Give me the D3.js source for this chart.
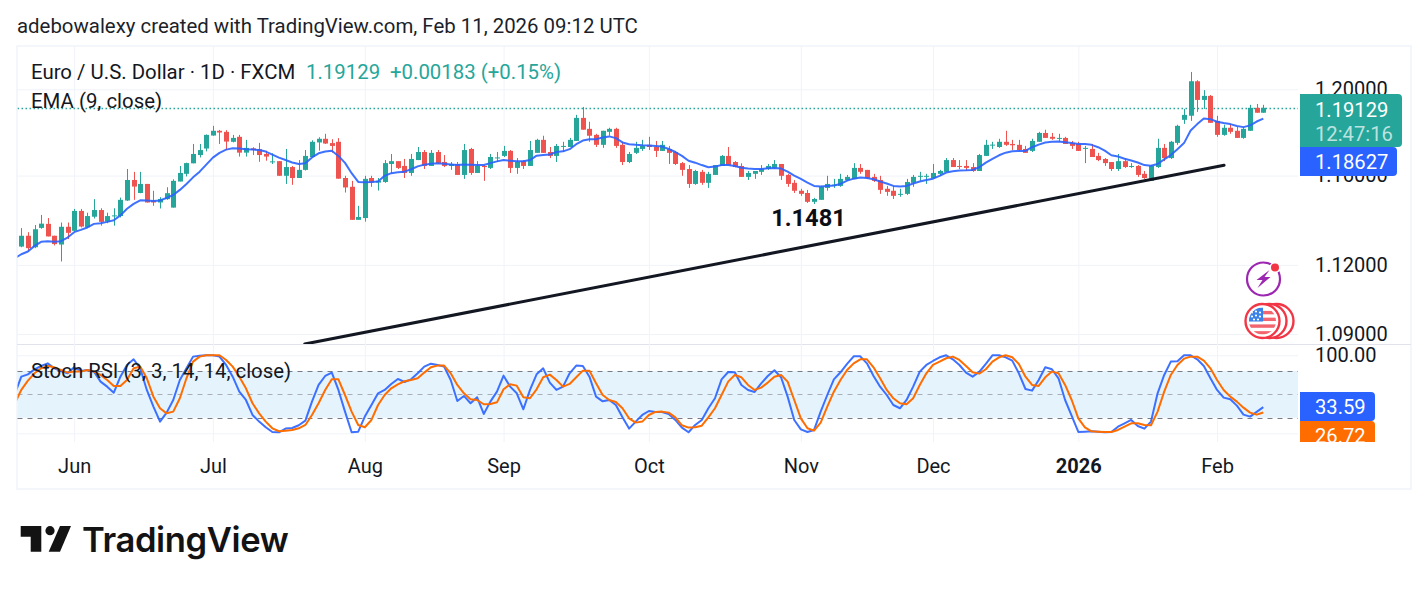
<!DOCTYPE html>
<html>
<head>
<meta charset="utf-8">
<title>EUR/USD daily</title>
<script src="https://cdn.jsdelivr.net/npm/d3@7/dist/d3.min.js"></script>
<style>
  html, body { margin: 0; padding: 0; background: #fff; }
  svg { display: block; font-family: Roboto, sans-serif; }
  .pane-axis path { display: none; }
</style>
</head>
<body>
<svg id="chart" width="1428" height="591"></svg>
<script>
// Daily candles, oldest first
const opens = [
1.1281,1.1329,1.1278,1.1364,1.1382,1.1329,1.1290,1.1369,1.1351,1.1440,
1.1367,1.1414,1.1444,1.1392,1.1417,1.1417,1.1487,1.1580,1.1521,1.1562,
1.1487,1.1478,1.1493,1.1455,1.1573,1.1608,1.1656,1.1694,1.1724,1.1784,
1.1806,1.1801,1.1755,1.1778,1.1705,1.1725,1.1721,1.1699,1.1662,1.1666,
1.1599,1.1639,1.1589,1.1626,1.1685,1.1752,1.1769,1.1749,1.1755,1.1589,
1.1549,1.1400,1.1408,1.1589,1.1568,1.1571,1.1653,1.1666,1.1644,1.1612,
1.1671,1.1708,1.1644,1.1708,1.1662,1.1644,1.1653,1.1603,1.1722,1.1612,
1.1644,1.1635,1.1680,1.1690,1.1713,1.1635,1.1666,1.1644,1.1704,1.1764,
1.1708,1.1690,1.1733,1.1731,1.1759,1.1866,1.1815,1.1787,1.1741,1.1801,
1.1815,1.1741,1.1662,1.1704,1.1722,1.1741,1.1731,1.1713,1.1722,1.1708,
1.1657,1.1630,1.1562,1.1617,1.1567,1.1603,1.1644,1.1690,1.1662,1.1644,
1.1594,1.1608,1.1617,1.1630,1.1635,1.1653,1.1603,1.1567,1.1531,1.1521,
1.1481,1.1490,1.1544,1.1556,1.1553,1.1580,1.1585,1.1635,1.1626,1.1594,
1.1580,1.1540,1.1531,1.1514,1.1517,1.1567,1.1596,1.1596,1.1589,1.1608,
1.1617,1.1671,1.1644,1.1644,1.1639,1.1621,1.1690,1.1739,1.1731,1.1755,
1.1745,1.1741,1.1722,1.1713,1.1755,1.1796,1.1778,1.1770,1.1773,1.1750,
1.1745,1.1724,1.1722,1.1690,1.1676,1.1662,1.1630,1.1666,1.1641,1.1644,
1.1608,1.1576,1.1639,1.1727,1.1680,1.1750,1.1857,1.1876,1.2038,1.1950,
1.1969,1.1852,1.1787,1.1820,1.1806,1.1773,1.1806,1.1913,1.1890];
const closes = [
1.1329,1.1274,1.1358,1.1383,1.1326,1.1292,1.1369,1.1342,1.1440,1.1370,
1.1417,1.1444,1.1391,1.1417,1.1420,1.1490,1.1580,1.1550,1.1562,1.1478,
1.1478,1.1494,1.1520,1.1576,1.1612,1.1657,1.1699,1.1717,1.1787,1.1806,
1.1798,1.1756,1.1773,1.1705,1.1727,1.1717,1.1694,1.1687,1.1665,1.1599,
1.1639,1.1589,1.1626,1.1690,1.1755,1.1769,1.1747,1.1736,1.1586,1.1546,
1.1400,1.1413,1.1585,1.1568,1.1577,1.1657,1.1666,1.1635,1.1612,1.1676,
1.1708,1.1644,1.1704,1.1657,1.1644,1.1653,1.1603,1.1717,1.1612,1.1644,
1.1639,1.1685,1.1683,1.1713,1.1635,1.1662,1.1644,1.1717,1.1764,1.1704,
1.1690,1.1736,1.1736,1.1764,1.1866,1.1811,1.1783,1.1741,1.1806,1.1815,
1.1736,1.1662,1.1699,1.1727,1.1736,1.1731,1.1713,1.1741,1.1704,1.1653,
1.1626,1.1562,1.1621,1.1567,1.1608,1.1648,1.1690,1.1648,1.1639,1.1594,
1.1612,1.1621,1.1630,1.1644,1.1653,1.1599,1.1562,1.1531,1.1517,1.1481,
1.1494,1.1549,1.1562,1.1559,1.1585,1.1594,1.1635,1.1617,1.1589,1.1576,
1.1535,1.1526,1.1508,1.1517,1.1571,1.1594,1.1599,1.1599,1.1612,1.1621,
1.1671,1.1639,1.1641,1.1635,1.1621,1.1694,1.1741,1.1742,1.1755,1.1741,
1.1739,1.1717,1.1704,1.1759,1.1796,1.1773,1.1769,1.1773,1.1745,1.1736,
1.1713,1.1727,1.1685,1.1671,1.1657,1.1630,1.1666,1.1639,1.1644,1.1603,
1.1589,1.1644,1.1727,1.1680,1.1755,1.1829,1.1880,1.2038,1.1950,1.1969,
1.1843,1.1787,1.1820,1.1801,1.1773,1.1815,1.1913,1.1890,1.19129];
const highs = [
1.1363,1.1345,1.1377,1.1422,1.1408,1.1329,1.1388,1.1388,1.1449,1.1449,
1.1432,1.1493,1.1452,1.1432,1.1452,1.1500,1.1630,1.1617,1.1617,1.1562,
1.1531,1.1502,1.1547,1.1583,1.1644,1.1659,1.1745,1.1745,1.1789,1.1829,
1.1810,1.1809,1.1787,1.1787,1.1764,1.1730,1.1750,1.1714,1.1702,1.1666,
1.1722,1.1644,1.1671,1.1717,1.1762,1.1776,1.1792,1.1767,1.1772,1.1599,
1.1576,1.1463,1.1599,1.1599,1.1589,1.1671,1.1699,1.1666,1.1676,1.1699,
1.1731,1.1717,1.1717,1.1717,1.1694,1.1662,1.1662,1.1745,1.1727,1.1666,
1.1648,1.1699,1.1708,1.1736,1.1717,1.1680,1.1671,1.1759,1.1769,1.1783,
1.1731,1.1745,1.1755,1.1773,1.1880,1.1917,1.1848,1.1792,1.1806,1.1820,
1.1820,1.1755,1.1708,1.1755,1.1764,1.1778,1.1759,1.1759,1.1736,1.1713,
1.1662,1.1648,1.1626,1.1626,1.1617,1.1648,1.1694,1.1731,1.1666,1.1656,
1.1621,1.1621,1.1648,1.1653,1.1671,1.1653,1.1608,1.1580,1.1540,1.1535,
1.1499,1.1553,1.1599,1.1585,1.1608,1.1603,1.1657,1.1653,1.1626,1.1608,
1.1599,1.1553,1.1553,1.1540,1.1585,1.1603,1.1617,1.1608,1.1653,1.1626,
1.1680,1.1680,1.1671,1.1671,1.1657,1.1699,1.1764,1.1755,1.1769,1.1806,
1.1764,1.1764,1.1736,1.1769,1.1801,1.1811,1.1796,1.1792,1.1778,1.1759,
1.1755,1.1736,1.1745,1.1704,1.1680,1.1662,1.1699,1.1680,1.1657,1.1648,
1.1621,1.1648,1.1769,1.1745,1.1759,1.1834,1.1908,1.2082,1.2043,1.1996,
1.1973,1.1876,1.1834,1.1838,1.1824,1.1824,1.1927,1.1931,1.1927];
const lows = [
1.1278,1.1259,1.1274,1.1360,1.1326,1.1286,1.1215,1.1314,1.1348,1.1366,
1.1363,1.1406,1.1374,1.1385,1.1374,1.1411,1.1485,1.1490,1.1520,1.1478,
1.1463,1.1451,1.1490,1.1455,1.1573,1.1596,1.1656,1.1683,1.1711,1.1783,
1.1745,1.1717,1.1752,1.1687,1.1687,1.1694,1.1663,1.1668,1.1653,1.1599,
1.1562,1.1558,1.1589,1.1623,1.1683,1.1714,1.1745,1.1705,1.1586,1.1523,
1.1400,1.1400,1.1392,1.1549,1.1532,1.1567,1.1611,1.1630,1.1589,1.1599,
1.1671,1.1630,1.1644,1.1653,1.1639,1.1626,1.1603,1.1585,1.1603,1.1612,
1.1576,1.1630,1.1662,1.1685,1.1612,1.1608,1.1630,1.1644,1.1704,1.1704,
1.1680,1.1662,1.1708,1.1731,1.1759,1.1811,1.1755,1.1731,1.1727,1.1783,
1.1727,1.1648,1.1657,1.1699,1.1713,1.1717,1.1685,1.1713,1.1653,1.1648,
1.1599,1.1544,1.1558,1.1558,1.1544,1.1603,1.1644,1.1648,1.1638,1.1594,
1.1580,1.1585,1.1603,1.1626,1.1630,1.1580,1.1549,1.1521,1.1508,1.1476,
1.1471,1.1490,1.1531,1.1544,1.1549,1.1576,1.1585,1.1608,1.1585,1.1571,
1.1517,1.1508,1.1494,1.1504,1.1512,1.1549,1.1576,1.1562,1.1585,1.1599,
1.1617,1.1639,1.1630,1.1621,1.1617,1.1621,1.1690,1.1722,1.1727,1.1736,
1.1717,1.1713,1.1704,1.1708,1.1755,1.1773,1.1764,1.1755,1.1745,1.1722,
1.1713,1.1657,1.1685,1.1666,1.1644,1.1621,1.1621,1.1635,1.1635,1.1594,
1.1585,1.1576,1.1635,1.1666,1.1676,1.1741,1.1838,1.1852,1.1894,1.1908,
1.1843,1.1778,1.1783,1.1792,1.1773,1.1769,1.1806,1.1890,1.1890];

// Line series start one bar before the first candle, off the left edge
const ema9 = [
1.1229,1.1247,1.1259,1.1284,1.1302,1.1305,1.1302,1.1305,1.1321,1.1345,
1.1355,1.1366,1.1382,1.1385,1.1391,1.1398,1.1420,1.1450,1.1472,1.1488,
1.1487,1.1485,1.1487,1.1499,1.1512,1.1535,1.1562,1.1592,1.1618,1.1650,
1.1682,1.1704,1.1719,1.1725,1.1724,1.1721,1.1719,1.1717,1.1710,1.1696,
1.1682,1.1671,1.1660,1.1653,1.1656,1.1683,1.1702,1.1710,1.1714,1.1690,
1.1658,1.1611,1.1571,1.1570,1.1571,1.1573,1.1599,1.1611,1.1615,1.1618,
1.1629,1.1642,1.1650,1.1654,1.1656,1.1654,1.1651,1.1648,1.1651,1.1650,
1.1648,1.1648,1.1657,1.1665,1.1671,1.1668,1.1665,1.1666,1.1671,1.1691,
1.1694,1.1696,1.1708,1.1711,1.1721,1.1744,1.1761,1.1767,1.1767,1.1775,
1.1780,1.1772,1.1752,1.1744,1.1741,1.1739,1.1738,1.1736,1.1733,1.1722,
1.1708,1.1690,1.1668,1.1659,1.1648,1.1638,1.1641,1.1648,1.1648,1.1644,
1.1636,1.1632,1.1630,1.1630,1.1633,1.1635,1.1632,1.1618,1.1600,1.1585,
1.1568,1.1553,1.1550,1.1553,1.1555,1.1562,1.1577,1.1586,1.1591,1.1589,
1.1583,1.1573,1.1564,1.1553,1.1550,1.1553,1.1564,1.1573,1.1580,1.1586,
1.1599,1.1614,1.1620,1.1623,1.1624,1.1626,1.1638,1.1659,1.1676,1.1693,
1.1705,1.1711,1.1713,1.1713,1.1730,1.1742,1.1752,1.1755,1.1756,1.1753,
1.1749,1.1745,1.1745,1.1741,1.1730,1.1714,1.1693,1.1687,1.1677,1.1669,
1.1660,1.1648,1.1645,1.1653,1.1674,1.1694,1.1721,1.1749,1.1807,1.1837,
1.1863,1.1860,1.1848,1.1842,1.1837,1.1828,1.1823,1.1831,1.1849,1.18627];
const stochK = [
50,72.6,75.6,82,86.3,89.7,83.3,79.9,76.9,84.6,79.9,81.2,79,66.2,59.8,52.1,72.6,87.6,94.9,83.3,
55.6,34.2,15,26.5,42.7,68.4,83.3,98.3,99.5,100,100,98.3,87.6,72.6,53.4,42.7,23.5,15,7.7,1.7,
1.3,6,6.8,10.3,16.2,40.6,62,73.5,77.8,55.6,27.8,1.3,2.1,21.4,36.3,51.3,55.6,63.3,69.7,65.8,
69.2,76.9,85.5,89.3,87.6,85.5,68.4,41.5,47.9,38.5,46.2,24.8,40.6,53.4,73.9,59.8,51.3,30.8,55.6,75.6,
83.3,65,55.6,59.8,76.9,86.8,86.3,72.6,47,41,42.7,36.3,20.5,6,15,23.5,28.6,27.4,27.4,24.8,
17.1,7.3,1.3,10.7,17.1,32.1,44.9,69.2,78.6,78.2,62,55.6,53,64.1,73.5,80.8,71.8,47,17.1,5.1,
1.7,4.3,27.8,49.1,69.2,78.2,88.9,98.7,98.7,89.7,73.5,59.8,49.1,36.3,32.1,42.7,59.8,79.1,87.6,92.7,
97.4,100,94.9,87.6,77.8,72.6,78.6,88.9,100,100,97.4,93.2,76.9,56.8,54.7,68.4,84.6,82.1,70.5,42.7,
22.2,1.7,2.1,2.6,2.1,1.3,1.7,8.5,12.8,17.1,9.4,6,15,51.3,74.8,91.9,92.3,100,100,94.9,
86.3,70.5,55.6,45.7,43.6,35.5,23.9,21.4,27.4,33.59];
const stochD = [
38,55.6,67.5,76.9,83.3,86.3,84.6,81.2,77.8,79.1,79.1,81.2,79.1,74.8,68.4,60.7,60.7,68.4,83.3,85.5,
70.5,47,32.1,25.6,27.8,44.9,70.5,91.9,98.3,100,100,100,94,85.5,72.6,57.7,38.5,25.6,15,6.4,
2.6,3.4,4.3,6.4,10.7,23.5,38.5,55.6,69.2,69.2,49.1,27.8,10.7,7.7,17.1,36.3,49.1,57.7,62.8,66.7,
68.4,70.5,77.8,84.6,86.8,86.8,76.9,62,51.3,43.6,42.7,37.2,37.6,39.7,56.4,62.8,61.1,46.2,44.9,56.4,
71.8,75.2,68.4,59.8,63.3,71.8,80.3,80.3,64.1,49.1,42.7,40.2,32.1,19.2,13.7,15,23.5,27.4,27.8,26.5,
20.5,10.3,7.3,7.7,9.8,20.5,32.1,49.1,66.2,74.8,71.8,62,55.6,58.6,65,72.6,74.8,66.2,42.7,19.2,
6.4,3.4,13.7,34.2,53.4,68.4,81.2,89.7,94.9,94.9,84.6,70.5,55.6,44.9,38.5,37.2,44.9,62,76.9,87.6,
91.9,96.2,98.3,94,86.3,78.2,76.5,82.1,91.9,97.4,100,97.4,88.9,72.6,62,60.7,71.8,79.1,76.9,62,
42.7,19.2,7.7,2.6,2.1,1.7,1.7,4.3,8.5,12.8,12.8,10.7,10.3,27.8,53.4,74.8,87.6,95.7,98.3,98.3,
93.2,83.3,68.4,55.6,47,40.6,32.9,26.5,23.9,26.72];

// Axis content
const priceTicks = [1.20, 1.16, 1.12, 1.09];
const monthBars = [8, 29, 52, 73, 95, 118, 138, 160, 181];
const monthLabels = ["Jun", "Jul", "Aug", "Sep", "Oct", "Nov", "Dec", "2026", "Feb"];
const stochBands = [80, 50, 20];

// Hand-drawn support line and the swing-low note, anchored on bar and price
const trendBars = [42.9, 182.06];
const trendPrices = [1.08571, 1.1647];
const noteBar = 119;
const notePrice = 1.1481;
const lastPrice = 1.19129;
const lastEma = 1.18627;
const lastK = 33.59;
const lastD = 26.72;

const UP = "#26a69a", DOWN = "#ef5350", BLUE = "#2962ff", ORANGE = "#ff6d00";
const INK = "#131722", GRID = "#f0f3fa";
const L = 17.5, R = 1298;

const x = d3.scaleLinear().domain([0, 188]).range([21.3, 1263.3]);
const y = d3.scaleLog().domain([1.09, 1.20]).range([334, 89.3]);
const yS = d3.scaleLinear().domain([0, 100]).range([433.3, 355.3]);

const svg = d3.select("#chart");
const defs = svg.append("defs");
const clip = (id, a, b, w, h) => defs.append("clipPath").attr("id", id)
  .append("rect").attr("x", a).attr("y", b).attr("width", w).attr("height", h);
clip("priceClip", L, 46, R - L, 298);
clip("stochClip", L, 345, R - L, 97);
clip("tagClip", 1299, 345, 120, 97);

svg.append("text").attr("x", 17).attr("y", 33).attr("font-size", 20.4).attr("fill", "#1c1f2a")
  .text("adebowalexy created with TradingView.com, Feb 11, 2026 09:12 UTC");

// Outer frame and pane divider
svg.append("rect").attr("x", 17).attr("y", 46).attr("width", 1394).attr("height", 443)
  .attr("fill", "none").attr("stroke", GRID).attr("stroke-width", 1.5);
svg.append("line").attr("x1", 17).attr("x2", 1411).attr("y1", 344.5).attr("y2", 344.5)
  .attr("stroke", "#e0e3eb");

// Time axis with its vertical grid through both panes
const timeAxis = d3.axisBottom(x).tickValues(monthBars)
  .tickFormat((d, i) => monthLabels[i]).tickSize(396).tickPadding(17);
const gTime = svg.append("g").attr("class", "pane-axis")
  .attr("transform", "translate(0,46)").call(timeAxis);
gTime.selectAll("line").attr("stroke", GRID);
gTime.selectAll("text").attr("font-size", 20).attr("fill", INK).attr("font-family", "Roboto")
  .attr("font-weight", (d, i) => monthLabels[i] === "2026" ? 700 : 400);

// Price axis and grid
const priceAxis = d3.axisRight(y).tickValues(priceTicks).tickFormat(d3.format(".5f"))
  .tickSize(R - L).tickPadding(17);
const gPrice = svg.append("g").attr("class", "pane-axis")
  .attr("transform", `translate(${L},0)`).call(priceAxis);
gPrice.selectAll("line").attr("stroke", GRID);
gPrice.selectAll("text").attr("font-size", 20).attr("fill", INK).attr("font-family", "Roboto");

// Stochastic pane background: band fill, grid, dashed levels
const gS = svg.append("g");
gS.append("rect").attr("x", L).attr("width", R - L)
  .attr("y", yS(stochBands[0])).attr("height", yS(stochBands[2]) - yS(stochBands[0]))
  .attr("fill", "#e5f3fd");
const stochAxis = d3.axisRight(yS).tickValues([100, 0]).tickFormat(d => d === 100 ? "100.00" : "")
  .tickSize(R - L).tickPadding(17);
const gStochAxis = svg.append("g").attr("class", "pane-axis")
  .attr("transform", `translate(${L},0)`).call(stochAxis);
gStochAxis.selectAll("line").attr("stroke", GRID);
gStochAxis.selectAll("text").attr("font-size", 20).attr("fill", INK).attr("font-family", "Roboto");
gS.selectAll("line.level").data(stochBands).join("line").attr("class", "level")
  .attr("x1", L).attr("x2", R)
  .attr("y1", d => Math.round(yS(d)) + 0.5).attr("y2", d => Math.round(yS(d)) + 0.5)
  .attr("stroke", d => d === 50 ? "#a9adb8" : "#787b86")
  .attr("stroke-dasharray", "5 5");

// Price pane
const gPane = svg.append("g").attr("clip-path", "url(#priceClip)");
gPane.append("line").attr("x1", L).attr("x2", R)
  .attr("y1", Math.round(y(lastPrice)) + 0.5).attr("y2", Math.round(y(lastPrice)) + 0.5)
  .attr("stroke", UP).attr("stroke-width", 1.5).attr("stroke-dasharray", "1.5 2.5");

const bars = d3.range(opens.length);
const tone = i => closes[i] >= opens[i] ? UP : DOWN;
gPane.selectAll("line.wick").data(bars).join("line").attr("class", "wick")
  .attr("x1", i => Math.round(x(i)) + 0.5).attr("x2", i => Math.round(x(i)) + 0.5)
  .attr("y1", i => y(highs[i])).attr("y2", i => y(lows[i]))
  .attr("stroke", tone);
gPane.selectAll("rect.body").data(bars).join("rect").attr("class", "body")
  .attr("x", i => Math.round(x(i)) - 2).attr("width", 5)
  .attr("y", i => y(Math.max(opens[i], closes[i])))
  .attr("height", i => Math.max(1, Math.abs(y(opens[i]) - y(closes[i]))))
  .attr("fill", tone);

const priceLine = d3.line().x((d, i) => x(i - 1)).y(d => y(d));
gPane.append("path").attr("d", priceLine(ema9)).attr("fill", "none")
  .attr("stroke", BLUE).attr("stroke-opacity", 0.9).attr("stroke-width", 2).attr("stroke-linejoin", "round");

gPane.append("line")
  .attr("x1", x(trendBars[0])).attr("y1", y(trendPrices[0]))
  .attr("x2", x(trendBars[1])).attr("y2", y(trendPrices[1]))
  .attr("stroke", INK).attr("stroke-width", 3).attr("stroke-linecap", "round");

svg.append("text").attr("x", x(noteBar) + 1).attr("y", y(notePrice) + 24)
  .attr("text-anchor", "middle").attr("font-size", 23.6).attr("font-weight", 700).attr("fill", "#0b0e14")
  .text(notePrice.toFixed(4));

// Stochastic lines
const stochLine = d3.line().x((d, i) => x(i - 1)).y(d => yS(d));
const gStoch = svg.append("g").attr("clip-path", "url(#stochClip)");
gStoch.append("path").attr("d", stochLine(stochK)).attr("fill", "none")
  .attr("stroke", BLUE).attr("stroke-opacity", 0.9).attr("stroke-width", 2).attr("stroke-linejoin", "round");
gStoch.append("path").attr("d", stochLine(stochD)).attr("fill", "none")
  .attr("stroke", ORANGE).attr("stroke-width", 2).attr("stroke-linejoin", "round");

// Pane legends
const legend = svg.append("g").attr("font-size", 20.4).attr("fill", INK);
legend.append("text").attr("x", 31).attr("y", 79).text("Euro / U.S. Dollar · 1D · FXCM");
legend.append("text").attr("x", 306).attr("y", 79).attr("fill", UP).text(d3.format(".5f")(lastPrice));
legend.append("text").attr("x", 390).attr("y", 79).attr("fill", UP).text("+0.00183 (+0.15%)");
legend.append("text").attr("x", 31).attr("y", 108).text("EMA (9, close)");
legend.append("text").attr("x", 31).attr("y", 378).text("Stoch RSI (3, 3, 14, 14, close)");

// Right-hand value tags
function tag(parent, y0, y1, width, fill, lines) {
  parent.append("path")
    .attr("d", `M1300,${y0}H${1300 + width - 4}a4,4 0 0 1 4,4V${y1 - 4}a4,4 0 0 1 -4,4H1300Z`)
    .attr("fill", fill);
  lines.forEach(l => parent.append("text").attr("x", 1315).attr("y", l.y)
    .attr("font-size", 20.2).attr("fill", "#fff").attr("fill-opacity", l.o || 1).text(l.t));
}
const tags = svg.append("g");
tag(tags, 94, 147, 102, UP, [
  { t: d3.format(".5f")(lastPrice), y: 117 },
  { t: "12:47:16", y: 141, o: 0.7 }
]);
tag(tags, 147, 176, 97, BLUE, [{ t: d3.format(".5f")(lastEma), y: 169 }]);
const stochTags = svg.append("g").attr("clip-path", "url(#tagClip)");
tag(stochTags, 421, 451, 75, ORANGE, [{ t: d3.format(".2f")(lastD), y: 443 }]);
tag(stochTags, 392, 421, 75, BLUE, [{ t: d3.format(".2f")(lastK), y: 414 }]);

// Status badges over the price scale
const flash = svg.append("g").attr("transform", "translate(1263.5,279)");
flash.append("circle").attr("r", 16.5).attr("fill", "#fff").attr("stroke", "#9c27b0").attr("stroke-width", 2.2);
flash.append("path").attr("d", "M6,-9 L-7,1 H-1 L-6,9 L7,-2 H1 Z").attr("fill", "#9c27b0");
flash.append("circle").attr("cx", 11.5).attr("cy", -11.5).attr("r", 5.5).attr("fill", "#fff");
flash.append("circle").attr("cx", 11.5).attr("cy", -11.5).attr("r", 4).attr("fill", "#f23645");

defs.append("clipPath").attr("id", "flagClip").append("circle")
  .attr("cx", 13.5).attr("cy", 13.5).attr("r", 13.5);
const flag = svg.append("g").attr("transform", "translate(1262.5,321)");
[14, 7, 0].forEach(dx => flag.append("circle").attr("cx", dx).attr("r", 17)
  .attr("fill", "#fff").attr("stroke", "#f23645").attr("stroke-width", 2.4));
const cloth = flag.append("g").attr("transform", "translate(-13.5,-13.5)").attr("clip-path", "url(#flagClip)");
cloth.append("rect").attr("width", 27).attr("height", 27).attr("fill", "#fff");
d3.range(0, 27, 6.75).forEach(v => cloth.append("rect").attr("y", v + 3.4).attr("width", 27).attr("height", 3.4).attr("fill", "#f2656f"));
cloth.append("rect").attr("width", 14).attr("height", 14).attr("fill", "#3b82e8");
[[3, 5], [7, 4], [11, 5], [3, 9], [7, 8], [11, 9], [5, 12], [9, 12]].forEach(p =>
  cloth.append("circle").attr("cx", p[0]).attr("cy", p[1]).attr("r", 1.1).attr("fill", "#fff"));

// Brand mark and wordmark
const brand = svg.append("g").attr("fill", "#131313");
brand.append("path").attr("d", "M20.7,526H41.3V551.7H30.7V536.7H20.7Z");
brand.append("circle").attr("cx", 50).attr("cy", 530.7).attr("r", 4.6);
brand.append("path").attr("d", "M60,526H71L60,551.7H48.7Z");
brand.append("text").attr("x", 82).attr("y", 552).attr("font-family", "Inter, Roboto, sans-serif")
  .attr("font-size", 34.6).attr("font-weight", 600).attr("letter-spacing", -0.4).text("TradingView");
</script>
</body>
</html>
